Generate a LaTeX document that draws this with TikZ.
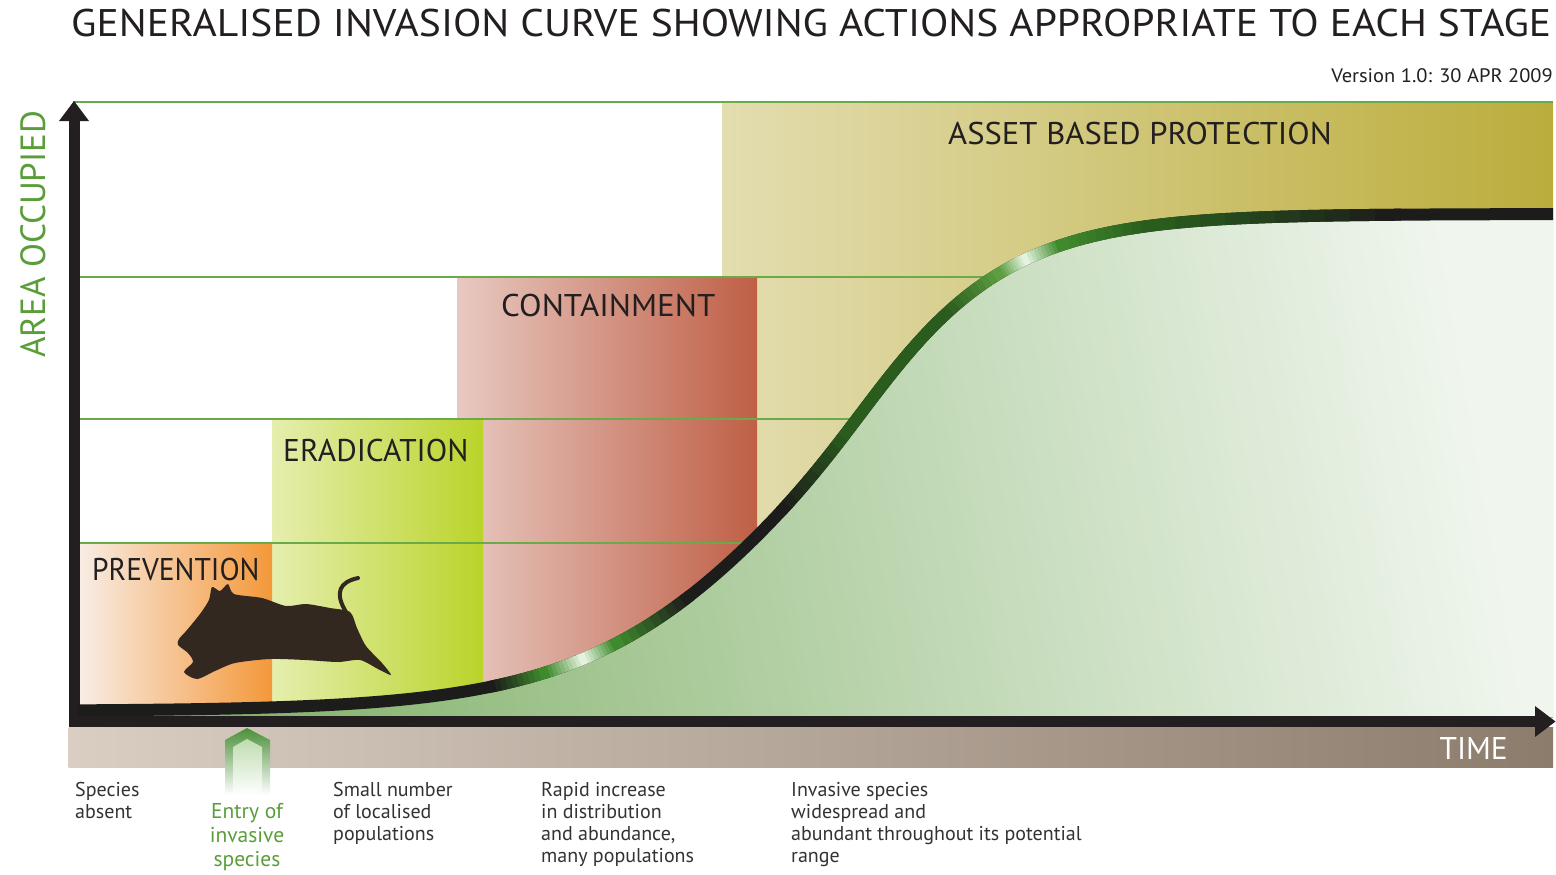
\documentclass[tikz,border=0pt]{standalone}
\usepackage{graphicx}
\usepackage{fontspec}
\setmainfont{PT Sans}
\definecolor{gridgreen}{HTML}{6AAA48}
\definecolor{axisblack}{HTML}{231F20}
\definecolor{txtdark}{HTML}{231F20}
\definecolor{txtgray}{HTML}{333333}
\definecolor{occgreen}{HTML}{5A9E3A}
\definecolor{prevL}{HTML}{F8EDE6}
\definecolor{prevR}{HTML}{F4983A}
\definecolor{eradL}{HTML}{E5EEAE}
\definecolor{eradR}{HTML}{BAD42A}
\definecolor{contL}{HTML}{E8C9C1}
\definecolor{contR}{HTML}{BF5F46}
\definecolor{assetL}{HTML}{E3DDB0}
\definecolor{assetR}{HTML}{BBAD3C}
\definecolor{bandL}{HTML}{DACEC3}
\definecolor{bandR}{HTML}{8C7C6C}
\definecolor{fillDark}{HTML}{80B068}
\definecolor{fillLight}{HTML}{F0F6EE}
\definecolor{cblack}{HTML}{1C1C1A}
\definecolor{cgreen}{HTML}{3E8A2C}
\definecolor{clight}{HTML}{E4F2DE}
\definecolor{cdark}{HTML}{2A5C1E}
\definecolor{cmid}{HTML}{5C9E40}
\definecolor{boarcol}{HTML}{33281F}
\definecolor{entrygreen}{HTML}{4A9038}
\definecolor{entrylight}{HTML}{BFDCB0}
\newcommand\lstack[1]{\vtop{\baselineskip=22pt\halign{##\hfil\cr#1\crcr}}}
\newcommand\cstack[1]{\vtop{\baselineskip=24pt\halign{\hfil##\hfil\cr#1\crcr}}}
\newcommand\cseg[4]{\foreach \i in {0,...,9}{%
  \pgfmathsetmacro\xa{#1+(#2-#1)*\i/10}%
  \pgfmathsetmacro\xb{#1+(#2-#1)*(\i+1)/10+0.8}%
  \pgfmathtruncatemacro\p{\i*100/9}%
  \draw[curveline, draw=#4!\p!#3] plot[domain=\xa:\xb, samples=4] (\x,{cy(\x)});}}
\begin{document}
\begin{tikzpicture}[x=1pt,y=-1pt,
  declare function={sv(\x)=100-12*tanh((\x-823)/80); cy(\x)=711-497/(1+exp(-(\x-823)/sv(\x)));},
  curveline/.style={line width=12pt, line cap=butt},
  gline/.style={draw=gridgreen, line width=2.2pt},
  stagelabel/.style={anchor=base west, inner sep=0pt, text=txtdark, font=\fontsize{31.4}{33}\selectfont},
  bottomtext/.style={anchor=base west, inner sep=0pt, text=txtgray, font=\fontsize{20}{22}\selectfont},
  axisfill/.style={fill=axisblack}]
\useasboundingbox (0,0) rectangle (1556,875);
\fill[white] (0,0) rectangle (1556,875);
% stage regions
\shade[left color=assetL, right color=assetR] (722,102) rectangle (1553,717);
\shade[left color=contL, right color=contR] (457,277) rectangle (757,717);
\shade[left color=eradL, right color=eradR] (272,419) rectangle (483,717);
\shade[left color=prevL, right color=prevR] (78,543) rectangle (272,717);
% grid lines
\draw[gline] (73,102) -- (1553,102);
\draw[gline] (78,277) -- (1000,277);
\draw[gline] (78,419) -- (900,419);
\draw[gline] (78,543) -- (800,543);
% area under curve
\shade[top color=fillLight, bottom color=fillDark, shading angle=-80]
  plot[domain=78:1553, samples=200] (\x,{cy(\x)}) -- (1553,717) -- (78,717) -- cycle;
% time band
\shade[left color=bandL, right color=bandR] (68.5,727) rectangle (1553,767);
% axes
\fill[axisfill] (68.5,118) rectangle (79.5,727);
\fill[axisfill] (59,121) -- (74,101) -- (89,121) -- cycle;
\fill[axisfill] (68.5,716) rectangle (1537,727);
\fill[axisfill] (1535,706) -- (1555.5,721.5) -- (1535,737) -- cycle;
% curve
\draw[curveline, draw=cblack] plot[domain=78:1553, samples=300] (\x,{cy(\x)});
\cseg{490}{545}{cblack}{cgreen}
\cseg{545}{583}{cgreen}{clight}
\cseg{583}{615}{clight}{cgreen}
\cseg{615}{690}{cgreen}{cblack}
\cseg{780}{850}{cblack}{cdark}
\draw[curveline, draw=cdark] plot[domain=849:946, samples=30] (\x,{cy(\x)});
\cseg{945}{1000}{cdark}{cmid}
\cseg{1000}{1025}{cmid}{clight}
\cseg{1025}{1060}{clight}{cgreen}
\cseg{1060}{1150}{cgreen}{cdark}
\cseg{1150}{1400}{cdark}{cblack}
% boar
\fill[boarcol] plot[smooth cycle, tension=0.45] coordinates {
 (178,645) (188,653) (193,662) (184,672) (197,679) (215,671) (235,663) (270,659)
 (305,660) (338,662) (360,660) (378,669) (391,675) (382,663) (366,646) (357,628)
 (350,612) (330,608) (306,604) (286,606) (262,598) (234,594) (228,584) (220,591)
 (212,587) (209,600) (200,614) (187,630) (179,639)};
\draw[boarcol, line width=4pt, line cap=round] (346,612) .. controls (334,592) and (340,582) .. (358,578);
% entry arrow
\shade[top color=entrygreen, bottom color=white] (225,740) -- (247,728) -- (270,740) -- (270,795) -- (225,795) -- cycle;
\shade[top color=entrylight, bottom color=white] (233,747) -- (247,739) -- (262,747) -- (262,795) -- (233,795) -- cycle;
% texts
\node[anchor=base west, inner sep=0pt, text=txtdark, font=\fontsize{38.5}{40}\selectfont] (title) at (71,37) {\scalebox{1.078}[1]{GENERALISED INVASION CURVE SHOWING ACTIONS APPROPRIATE TO EACH STAGE}};
\node[anchor=base east, inner sep=0pt, text=txtdark, font=\fontsize{19.5}{21}\selectfont] (version) at (1553,83) {\scalebox{1.05}[1]{Version 1.0: 30 APR 2009}};
\node[stagelabel] (prevention) at (92,580) {\scalebox{0.94}[1]{PREVENTION}};
\node[stagelabel] (eradication) at (283,461) {ERADICATION};
\node[stagelabel] (containment) at (501,316) {\scalebox{1.05}[1]{CONTAINMENT}};
\node[stagelabel] (asset) at (948,144) {\scalebox{1.04}[1]{ASSET BASED PROTECTION}};
\node[anchor=base west, inner sep=0pt, text=occgreen, rotate=90, font=\fontsize{35}{37}\selectfont] (area) at (45,358) {AREA OCCUPIED};
\node[anchor=base east, inner sep=0pt, text=white, font=\fontsize{31.4}{33}\selectfont] (time) at (1508,759) {TIME};
\node[bottomtext] (absent) at (75,796) {\lstack{Species\cr absent}};
\node[bottomtext] (small) at (333,796) {\lstack{Small number\cr of localised\cr populations}};
\node[bottomtext] (rapid) at (541,796) {\lstack{Rapid increase\cr in distribution\cr and abundance,\cr many populations}};
\node[bottomtext] (widespread) at (791,796) {\lstack{Invasive species\cr widespread and\cr abundant throughout its potential\cr range}};
\node[anchor=base, inner sep=0pt, text=occgreen, font=\fontsize{21.5}{24}\selectfont] (entry) at (247,818) {\cstack{Entry of\cr invasive\cr species}};
\end{tikzpicture}
\end{document}
